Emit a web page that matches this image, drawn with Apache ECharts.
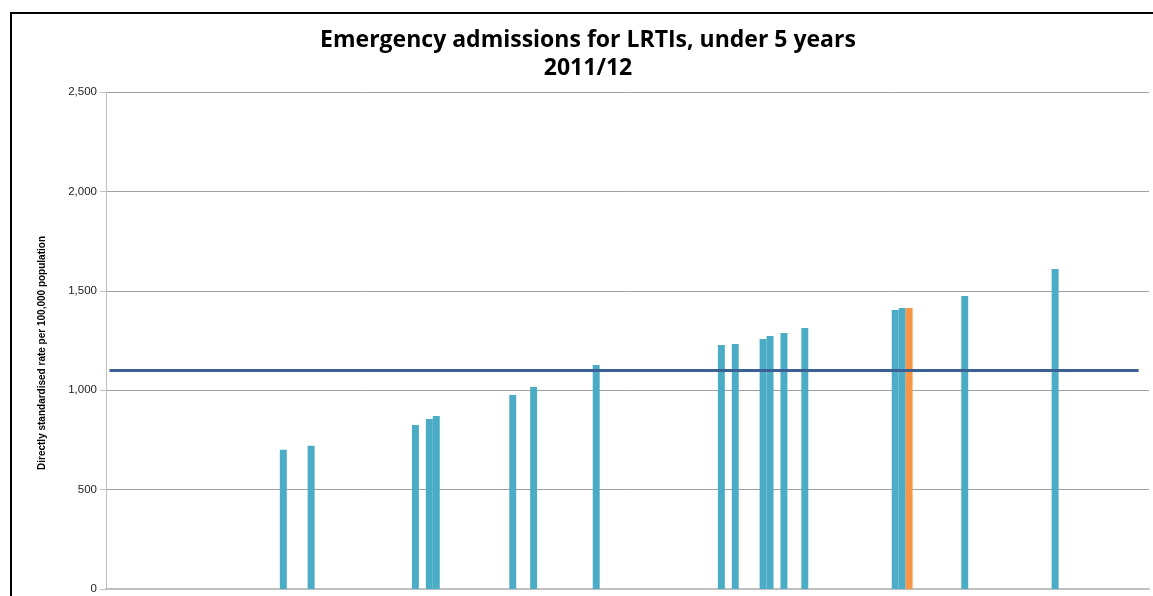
<!DOCTYPE html>
<html>
<head>
<meta charset="utf-8">
<title>Emergency admissions for LRTIs, under 5 years 2011/12</title>
<script src="https://cdn.jsdelivr.net/npm/echarts@6/dist/echarts.min.js"></script>
<style>
  html, body { margin: 0; padding: 0; background: #fff; overflow: hidden; }
  #chart { width: 1153px; height: 596px; }
</style>
</head>
<body>
<div id="chart"></div>
<script>
// Number of areas along the horizontal axis (one slot per area)
const categoryCount = 150;
// Slots that have a published rate, in ascending order of rate
const barSlots = [25, 29, 44, 46, 47, 58, 61, 70, 88, 90, 94, 95, 97, 100, 113, 114, 115, 123, 136];
// Directly standardised rate per 100,000 population for each slot above
const rates = [700, 720, 825, 855, 870, 976, 1016, 1127, 1227, 1232, 1258, 1273, 1288, 1313, 1403, 1413, 1413, 1474, 1610];
// Highlighted area
const highlightSlot = 115;
// England benchmark rate
const benchmark = 1100;
// Value axis ticks
const yTicks = [0, 500, 1000, 1500, 2000, 2500];

const categories = [];
for (let i = 0; i < categoryCount; i++) categories.push(String(i + 1));

const barData = categories.map(() => null);
barSlots.forEach((slot, k) => {
  barData[slot] = slot === highlightSlot
    ? { value: rates[k], itemStyle: { color: '#F79646' } }
    : rates[k];
});

const chart = echarts.init(document.getElementById('chart'), null, { renderer: 'canvas' });

chart.setOption({
  backgroundColor: '#ffffff',
  animation: false,
  grid: { left: 106, top: 92, width: 1043, height: 497, containLabel: false },
  xAxis: {
    type: 'category',
    data: categories,
    boundaryGap: true,
    axisLine: { show: true, lineStyle: { color: '#bfbfbf', width: 2 } },
    axisTick: { show: false },
    axisLabel: { show: false },
    splitLine: { show: false }
  },
  yAxis: {
    type: 'value',
    min: yTicks[0],
    max: yTicks[yTicks.length - 1],
    interval: 500,
    axisLine: { show: true, lineStyle: { color: '#bfbfbf', width: 1 } },
    axisTick: { show: true, inside: false, length: 6, lineStyle: { color: '#bfbfbf' } },
    axisLabel: {
      margin: 9,
      color: '#222',
      fontFamily: 'Liberation Sans, Arial, sans-serif',
      fontSize: 11.5,
      formatter: v => v.toLocaleString('en-GB')
    },
    splitLine: { show: true, lineStyle: { color: '#a0a0a0', width: 1 } }
  },
  graphic: [
    {
      // outer chart frame (left and top edges)
      type: 'polyline',
      shape: { points: [[11, 600], [11, 13], [1153, 13]] },
      style: { stroke: '#000', lineWidth: 2, fill: null }
    },
    {
      type: 'text', x: 588, y: 40,
      style: {
        text: 'Emergency admissions for LRTIs, under 5 years',
        fill: '#000', font: 'bold 23px "Open Sans", sans-serif',
        textAlign: 'center', textVerticalAlign: 'middle'
      }
    },
    {
      type: 'text', x: 588, y: 68,
      style: {
        text: '2011/12',
        fill: '#000', font: 'bold 23px "Open Sans", sans-serif',
        textAlign: 'center', textVerticalAlign: 'middle'
      }
    },
    {
      type: 'text', x: 42, y: 353, rotation: Math.PI / 2,
      style: {
        text: 'Directly standardised rate per 100,000 population',
        fill: '#000', font: 'bold 10px "Liberation Sans Narrow", "Liberation Sans", sans-serif',
        textAlign: 'center', textVerticalAlign: 'middle'
      }
    }
  ],
  series: [
    {
      name: 'Rate',
      type: 'bar',
      data: barData,
      barCategoryGap: '0%',
      itemStyle: { color: '#4BACC6' },
      markLine: {
        symbol: 'none',
        silent: true,
        label: { show: false },
        lineStyle: { color: '#3A6094', width: 3, type: 'solid' },
        data: [[
          { coord: [0, benchmark] },
          { coord: [categoryCount - 2, benchmark] }
        ]]
      }
    }
  ]
});
</script>
</body>
</html>
